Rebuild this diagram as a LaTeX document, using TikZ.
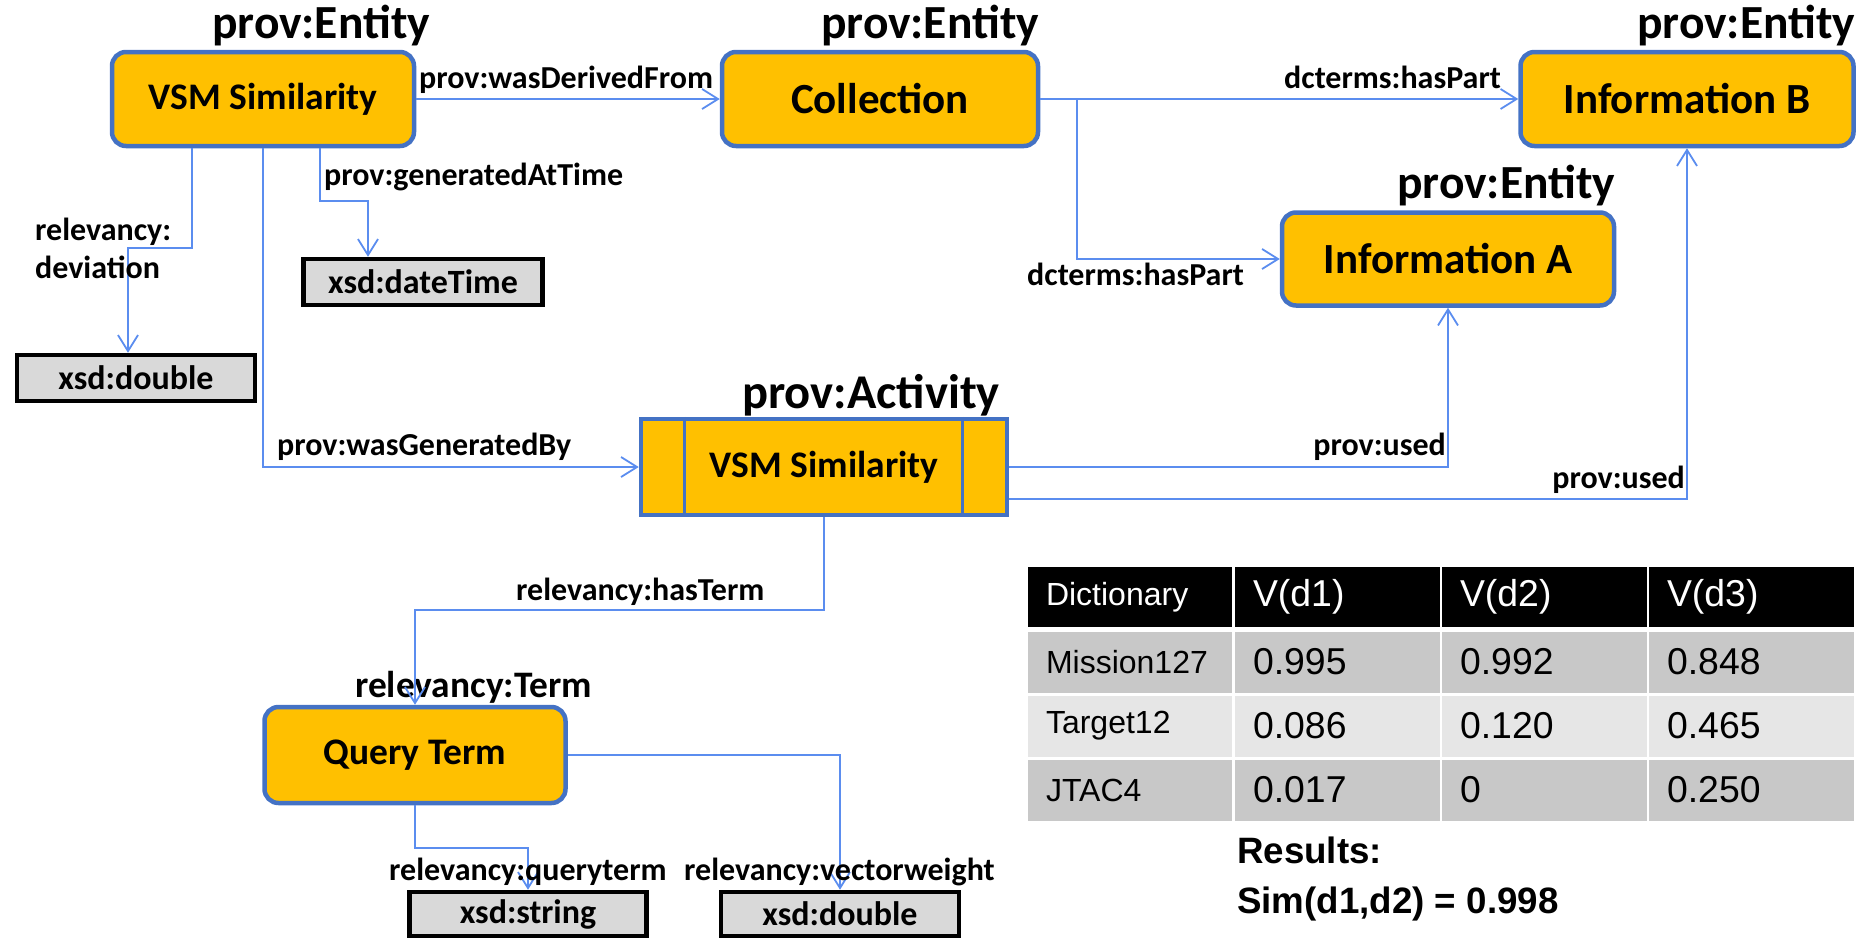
\documentclass[tikz,border=0pt]{standalone}
\usepackage{fontspec}
\setmainfont{Carlito}
\newfontfamily\arialf{Liberation Sans}
\usetikzlibrary{arrows.meta}
\definecolor{orng}{HTML}{FFC000}
\definecolor{bordblue}{HTML}{4472C4}
\definecolor{lineblue}{HTML}{5B8DEF}
\definecolor{xsdgray}{HTML}{D9D9D9}
\definecolor{rowdark}{HTML}{C8C8C8}
\definecolor{rowlight}{HTML}{E6E6E6}
\begin{document}
\begin{tikzpicture}[x=1pt,y=-1pt,
  entity/.style={draw=bordblue, line width=4.5pt, fill=orng, rounded corners=14pt,
    font=\fontsize{37.5}{40}\selectfont\bfseries, minimum height=94pt, inner sep=0pt},
  big/.style={font=\fontsize{43}{46}\selectfont\bfseries},
  activity/.style={draw=bordblue, line width=4.5pt, fill=orng,
    font=\fontsize{37.5}{40}\selectfont\bfseries, minimum height=96pt, inner sep=0pt},
  xsd/.style={draw=black, line width=4.5pt, fill=xsdgray,
    font=\fontsize{34}{36}\selectfont\bfseries, minimum height=46pt, inner sep=0pt},
  cls/.style={font=\fontsize{47.5}{50}\selectfont\bfseries, inner sep=0pt, anchor=base west},
  clsA/.style={font=\fontsize{48.5}{50}\selectfont\bfseries, inner sep=0pt, anchor=base west},
  clsS/.style={font=\fontsize{37.4}{40}\selectfont\bfseries, inner sep=0pt, anchor=base west},
  elbl/.style={font=\fontsize{32}{35}\selectfont\bfseries, inner sep=0pt, anchor=base west},
  elblr/.style={elbl, anchor=base east},
  conn/.style={draw=lineblue, line width=1.8pt, -{Straight Barb[length=16pt,width=20pt]}},
  cell/.style={rectangle, inner xsep=18pt, inner ysep=0pt, align=left, anchor=center},
  hd/.style={cell, fill=black, text=white, minimum height=60pt},
  c1/.style={text width=168pt, font=\arialf\fontsize{32}{35}\selectfont},
  cn/.style={text width=169pt, font=\arialf\fontsize{37.4}{40}\selectfont},
  rd/.style={cell, fill=rowdark, minimum height=61pt},
  rl/.style={cell, fill=rowlight, minimum height=61pt},
  res/.style={font=\arialf\fontsize{36.7}{40}\selectfont\bfseries, inner sep=0pt, anchor=base west}
]
\useasboundingbox (0,0) rectangle (1872,938);

% entity nodes
\node[entity, minimum width=302pt] (e1) at (263,99) {VSM Similarity};
\node[entity, big, minimum width=316pt] (coll) at (880,99) {Collection};
\node[entity, big, minimum width=333pt] (infB) at (1687,99) {Information B};
\node[entity, big, minimum width=332pt, minimum height=93pt] (infA) at (1448,259) {Information A};
\node[activity, minimum width=366pt] (act) at (824,467) {VSM Similarity};
\draw[bordblue, line width=3pt] ([xshift=46pt]act.north west) -- ([xshift=46pt]act.south west);
\draw[bordblue, line width=3pt] ([xshift=-47pt]act.north east) -- ([xshift=-47pt]act.south east);
\node[entity, minimum width=301pt, minimum height=96pt] (qt) at (415,755) {Query Term};

% literal nodes
\node[xsd, minimum width=238pt] (d1) at (136,378) {xsd:double};
\node[xsd, minimum width=239pt] (dt) at (423,282) {xsd:dateTime};
\node[xsd, minimum width=237pt, minimum height=44pt] (str) at (528,914) {xsd:string};
\node[xsd, minimum width=238pt, minimum height=44pt] (d2) at (840,914) {xsd:double};

% class labels
\node[cls] (l1) at (212,38) {prov:Entity};
\node[cls] (l2) at (821,38) {prov:Entity};
\node[cls] (l3) at (1637,38) {prov:Entity};
\node[cls] (l4) at (1397,198) {prov:Entity};
\node[clsA] (l5) at (742,408) {prov:Activity};
\node[clsS] (l6) at (355,697) {relevancy:Term};

% connectors
\draw[conn] (e1.east) -- (coll.west);
\draw[conn] ([xshift=-71pt]e1.south) -- ++(0,100) -| ([xshift=-8pt]d1.north);
\draw[conn] ([xshift=57pt]e1.south) -- ++(0,53) -| ([xshift=-55pt]dt.north);
\draw[conn] (e1.south) |- (act.west);
\draw[conn] (coll.east) -- (infB.west);
\draw[conn] ([xshift=37pt]coll.east) |- (infA.west);
\draw[conn] (act.east) -| (infA.south);
\draw[conn] ([yshift=-32pt]act.east) -| (infB.south);
\draw[conn] (act.south) -- ++(0,93) -| (qt.north);
\draw[conn] (qt.south) -- ++(0,43) -| (str.north);
\draw[conn] (qt.east) -| (d2.north);

% edge labels
\node[elbl] (a1) at (419,88) {prov:wasDerivedFrom};
\node[elbl] (a2) at (324,185) {prov:generatedAtTime};
\node[elbl] (a3) at (35,240) {relevancy:};
\node[elbl] (a4) at (35,278) {deviation};
\node[elbl] (a5) at (277,455) {prov:wasGeneratedBy};
\node[elbl] (a6) at (1284,88) {dcterms:hasPart};
\node[elbl] (a7) at (1027,285) {dcterms:hasPart};
\node[elblr] (a8) at (1446,455) {prov:used};
\node[elblr] (a9) at (1685,488) {prov:used};
\node[elbl] (a10) at (516,600) {relevancy:hasTerm};
\node[elbl] (a11) at (389,880) {relevancy:queryterm};
\node[elbl] (a12) at (684,880) {relevancy:vectorweight};

% table
\node[hd, c1] (t00) at (1130,597) {Dictionary};
\node[hd, cn] (t01) at (1337.5,597) {V(d1)};
\node[hd, cn] (t02) at (1544.5,597) {V(d2)};
\node[hd, cn] (t03) at (1751.5,597) {V(d3)};
\node[rd, c1] (t10) at (1130,662) {Mission127};
\node[rd, cn] (t11) at (1337.5,662) {0.995};
\node[rd, cn] (t12) at (1544.5,662) {0.992};
\node[rd, cn] (t13) at (1751.5,662) {0.848};
\node[rl, c1] (t20) at (1130,726) {Target12};
\node[rl, cn] (t21) at (1337.5,726) {0.086};
\node[rl, cn] (t22) at (1544.5,726) {0.120};
\node[rl, cn] (t23) at (1751.5,726) {0.465};
\node[rd, c1] (t30) at (1130,790) {JTAC4};
\node[rd, cn] (t31) at (1337.5,790) {0.017};
\node[rd, cn] (t32) at (1544.5,790) {0};
\node[rd, cn] (t33) at (1751.5,790) {0.250};

\node[res] (r1) at (1237,863) {Results:};
\node[res] (r2) at (1237,913) {Sim(d1,d2) = 0.998};
\end{tikzpicture}
\end{document}
